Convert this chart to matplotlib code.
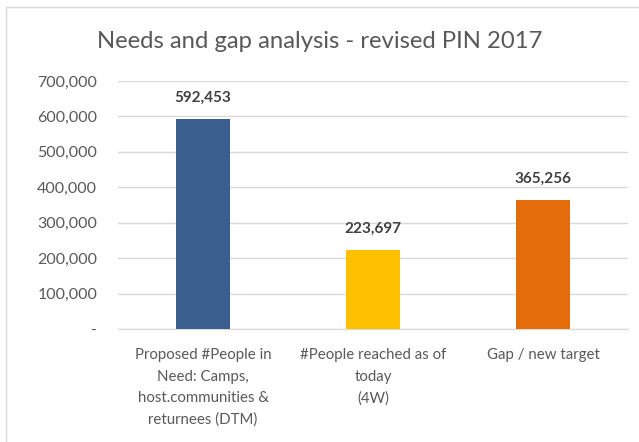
import matplotlib
matplotlib.use('Agg')
import matplotlib.pyplot as plt
from matplotlib.patches import Rectangle

plt.rcParams['font.family'] = ['Lato', 'DejaVu Sans']

categories = ['Proposed #People in\nNeed: Camps,\nhost.communities &\nreturnees (DTM)',
              '#People reached as of\ntoday\n(4W)',
              'Gap / new target']
values = [592453, 223697, 365256]
colors = ['#3A5F8F', '#FFC000', '#E46C0A']
yticks = [0, 100000, 200000, 300000, 400000, 500000, 600000, 700000]
ytick_labels = ['-', '100,000', '200,000', '300,000', '400,000', '500,000', '600,000', '700,000']

fig = plt.figure(figsize=(6.39, 4.42), dpi=100)
# light outer frame, like the Excel chart area
fig.patches.append(Rectangle((6 / 639, -0.05), 1.0, 1.05 - 7 / 442, transform=fig.transFigure,
                             fill=False, edgecolor='#d9d9d9', linewidth=1.0))

ax = fig.add_axes([118 / 639, 1 - 329 / 442, 510 / 639, 248 / 442])
x = range(len(values))
bars = ax.bar(x, values, width=0.32, color=colors, zorder=3)

ax.set_xlim(-0.5, 2.5)
ax.set_ylim(0, 700000)
ax.set_yticks(yticks)
ax.set_yticklabels(ytick_labels, fontsize=11.5)
ax.set_xticks(list(x))
ax.set_xticklabels(categories, linespacing=1.65, va='top', fontsize=10.8)
ax.tick_params(axis='both', length=0, colors='#595959')
ax.tick_params(axis='y', pad=15)
ax.tick_params(axis='x', pad=14)

ax.grid(axis='y', color='#d9d9d9', linewidth=1.0, zorder=0)
for s in ['top', 'right', 'left']:
    ax.spines[s].set_visible(False)
ax.spines['bottom'].set_color('#d9d9d9')

for b, v in zip(bars, values):
    ax.annotate(f'{v:,}', (b.get_x() + b.get_width() / 2, v), xytext=(0, 10),
                textcoords='offset points', ha='center', va='bottom',
                fontsize=11, fontweight='bold', color='#404040')

fig.text(0.5, 1 - 42 / 442, 'Needs and gap analysis - revised PIN 2017',
         ha='center', va='center', fontsize=17.2, color='#595959')

plt.savefig('out.png', dpi=100)
